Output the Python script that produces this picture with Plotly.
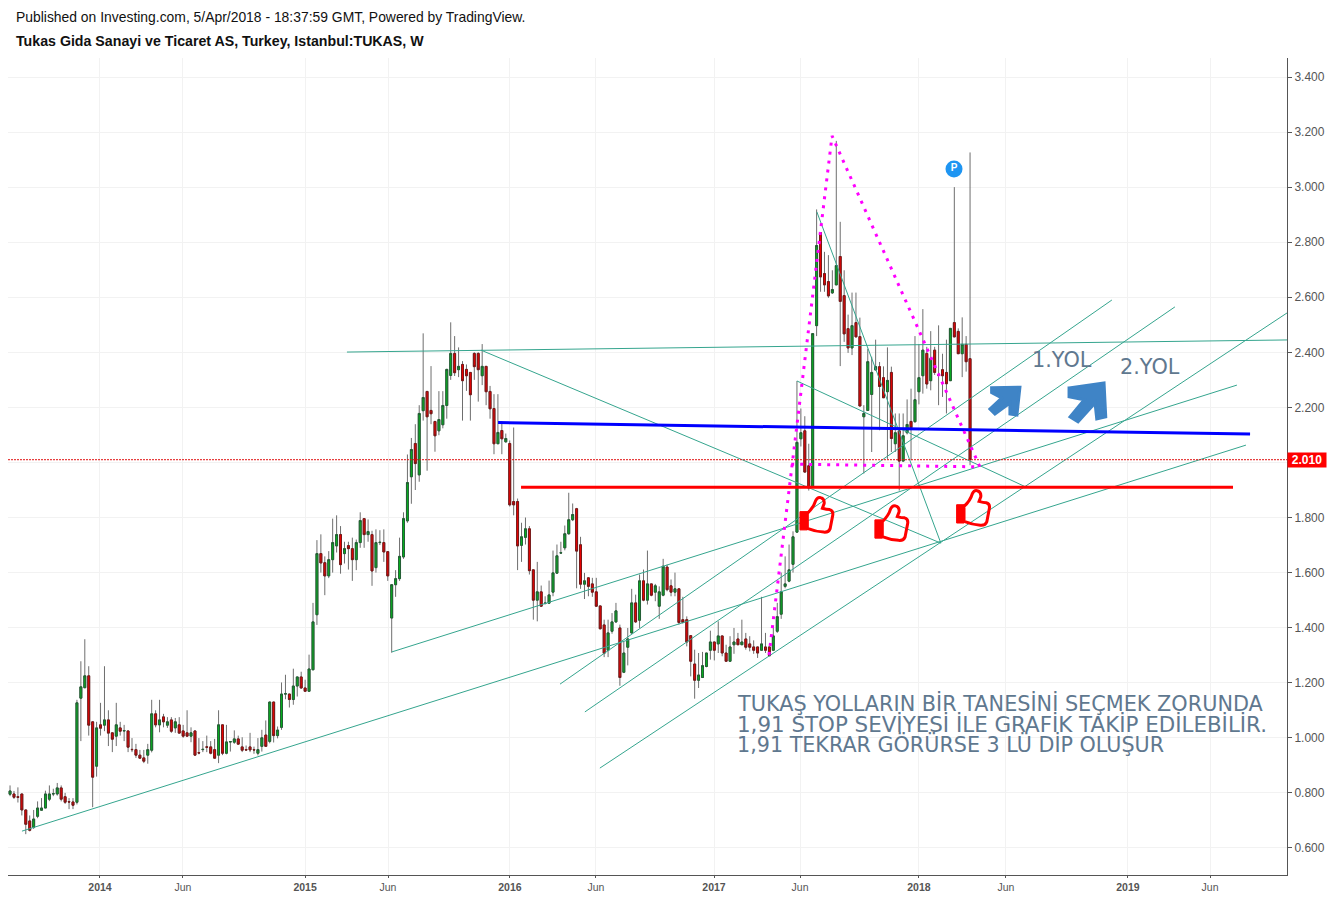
import pandas as pd
import plotly.graph_objects as go

# Weekly candles
opens = [
    .795,.796,.786,.796,.738,.698,.675,.715,.737,.745,.777,.796,.796,.818,.786,.768,.767,.766,1.144,1.182,
    1.225,1.058,.897,1.047,1.046,1.065,1.018,1.006,1.036,1.025,1.025,.958,.957,.937,.927,.937,.955,1.087,1.047,1.076,
    1.046,1.065,1.036,1.047,1.025,1.018,1.006,1.025,.946,.957,.967,.967,.957,.937,1.047,.944,.985,.984,.996,.967,
    .957,.967,.957,.944,
    .969,1.01,.987,1.13,1.008,1.038,1.159,1.159,1.139,1.188,1.221,1.181,1.169,1.247,1.447,
    1.669,1.636,1.588,1.647,1.697,1.738,1.669,1.698,1.687,1.647,1.709,1.796,1.738,1.738,1.618,1.709,1.709,1.676,1.435,1.556,
    1.578,1.657,1.788,1.948,2.069,1.955,2.188,2.258,2.189,2.149,2.115,2.137,2.207,2.316,2.396,2.337,2.356,2.338,2.327,2.396,
    2.396,2.315,2.349,2.258,2.196,2.068,2.116,2.075,2.069,1.858,1.858,
    1.699,1.728,1.759,1.61,1.5,1.53,1.488,1.489,1.529,1.598,1.671,1.69,1.741,1.792,1.832,1.701,1.558,1.581,1.559,1.53,
    1.479,1.41,1.318,1.387,1.421,1.399,1.238,1.329,1.381,1.49,1.427,1.57,1.5,1.559,1.529,1.478,1.518,1.62,1.552,1.529,
    1.541,1.429,1.429,1.371,1.268,1.209,1.219,1.259,1.318,1.348,1.341,1.37,1.308,1.278,1.338,1.359,1.338,1.359,1.341,1.33,
    1.33,1.318,1.33,1.33,1.318,1.387,1.449,1.55,1.569,
    1.63,1.747,2.086,2.115,1.988,1.913,2.497,2.835,2.686,2.657,2.616,2.645,2.748,2.606,2.486,2.416,2.508,2.457,2.166,2.189,
    2.247,2.336,2.348,2.308,2.257,2.327,2.068,2.115,2.005,2.108,2.149,2.148,2.257,2.315,2.396,2.297,2.408,2.318,2.337,2.327,
    2.297,2.508,2.476,2.395,2.429,2.377,
]
highs = [
    .827,.807,.82,.796,.738,.718,.738,.769,.781,.808,.827,.815,.836,.827,.80,.781,.781,1.138,1.278,1.358,
    1.26,1.058,1.058,1.127,1.26,1.10,1.018,1.127,1.058,1.047,1.025,.999,.978,.956,.956,.978,1.138,1.10,1.138,1.087,
    1.075,1.075,1.072,1.075,1.047,1.10,1.038,1.025,.999,.988,1.008,.988,.996,1.10,1.047,1.047,.986,1.027,1.008,1.002,
    .972,1.018,.968,.999,
    1.029,1.063,1.13,1.13,1.041,1.201,1.229,1.159,1.251,1.221,1.24,1.211,1.302,1.49,1.718,
    1.739,1.659,1.678,1.796,1.808,1.769,1.712,1.712,1.727,1.72,1.819,1.796,1.793,1.752,1.757,1.754,1.757,1.676,1.556,1.609,
    1.727,1.819,2.029,2.089,2.139,2.208,2.469,2.258,2.35,2.15,2.259,2.259,2.34,2.509,2.459,2.418,2.368,2.356,2.327,2.4,
    2.4,2.43,2.35,2.278,2.248,2.248,2.149,2.105,2.08,2.127,1.869,
    1.781,1.8,1.769,1.61,1.639,1.553,1.514,1.571,1.68,1.702,1.712,1.771,1.89,1.851,1.835,1.73,1.599,1.581,1.581,1.581,
    1.479,1.429,1.429,1.453,1.49,1.411,1.35,1.399,1.541,1.52,1.593,1.611,1.68,1.559,1.559,1.55,1.65,1.629,1.575,1.6,
    1.541,1.512,1.441,1.371,1.32,1.308,1.312,1.308,1.389,1.348,1.423,1.37,1.338,1.369,1.399,1.381,1.429,1.381,1.369,1.354,
    1.33,1.512,1.381,1.33,1.405,1.49,1.6,1.659,1.702,
    1.75,2.296,2.196,2.168,2.068,2.468,2.919,2.835,2.765,2.753,2.698,3.168,2.874,2.698,2.537,2.617,2.617,2.526,2.208,2.413,
    2.384,2.446,2.365,2.349,2.418,2.348,2.178,2.178,2.178,2.229,2.268,2.459,2.43,2.557,2.42,2.477,2.42,2.498,2.395,2.446,
    2.487,3.0,2.487,2.527,2.459,3.126,
]
lows = [
    .788,.778,.765,.718,.65,.66,.669,.708,.737,.745,.77,.788,.79,.769,.76,.741,.741,.758,.988,1.18,
    1.008,.748,.859,1.008,1.024,.97,.948,.97,1.008,.988,.948,.948,.927,.926,.908,.906,.947,1.038,1.02,1.038,
    1.036,1.018,1.018,1.015,1.0,1.006,.984,.937,.94,.948,.948,.94,.926,.908,.937,.94,.95,.978,.975,.948,
    .953,.948,.942,.936,
    .95,.969,.98,.983,.998,1.029,1.14,1.11,1.12,1.15,1.178,1.169,1.169,1.247,1.41,
    1.6,1.518,1.58,1.6,1.673,1.596,1.633,1.611,1.57,1.609,1.69,1.69,1.712,1.552,1.6,1.7,1.639,1.57,1.309,1.512,
    1.57,1.65,1.781,1.85,1.9,1.93,2.152,1.97,2.139,2.039,2.099,2.124,2.159,2.3,2.314,2.31,2.152,2.26,2.152,2.3,
    2.221,2.281,2.208,2.159,2.03,2.067,2.03,2.072,1.84,1.808,1.609,
    1.639,1.702,1.593,1.429,1.423,1.475,1.484,1.487,1.514,1.596,1.668,1.681,1.738,1.787,1.543,1.541,1.504,1.514,1.512,1.475,
    1.394,1.293,1.293,1.378,1.417,1.189,1.235,1.263,1.378,1.417,1.399,1.496,1.484,1.514,1.496,1.432,1.514,1.532,1.514,1.514,
    1.411,1.415,1.332,1.223,1.142,1.181,1.217,1.256,1.284,1.281,1.308,1.296,1.278,1.278,1.305,1.338,1.338,1.32,1.314,1.305,
    1.29,1.318,1.308,1.298,1.315,1.381,1.432,1.543,1.565,
    1.60,1.745,2.058,1.965,1.898,1.913,2.459,2.62,2.62,2.598,2.612,2.645,2.35,2.438,2.398,2.39,2.456,2.205,1.96,2.189,
    2.038,2.335,2.117,2.235,2.013,2.038,2.038,1.898,2.005,2.102,2.008,2.145,2.211,2.25,2.268,2.262,2.318,2.208,2.238,2.178,
    2.297,2.456,2.395,2.31,2.33,1.99,
]
closes = [
    .807,.784,.784,.738,.686,.664,.705,.745,.745,.796,.796,.797,.818,.777,.766,.767,.755,1.127,1.185,1.225,
    1.046,.857,1.036,1.035,1.065,1.017,.995,1.047,1.024,1.026,.966,.957,.937,.926,.915,.957,1.087,1.047,1.065,1.058,
    1.058,1.024,1.058,1.017,1.006,1.006,1.018,.937,.945,.958,.966,.944,.926,1.047,.944,.985,.986,.996,.977,.955,
    .956,.956,.956,.957,
    1.0,.969,1.13,1.008,1.028,1.159,1.16,1.139,1.188,1.221,1.181,1.169,1.25,1.421,1.669,
    1.635,1.588,1.647,1.709,1.738,1.629,1.687,1.687,1.647,1.709,1.789,1.738,1.749,1.606,1.709,1.71,1.675,1.588,1.556,1.578,
    1.659,1.796,1.927,2.047,1.996,2.178,2.236,2.166,2.177,2.097,2.156,2.207,2.338,2.396,2.326,2.349,2.297,2.315,2.246,2.348,
    2.337,2.349,2.257,2.195,2.068,2.109,2.086,2.087,1.846,1.846,1.697,
    1.73,1.759,1.607,1.5,1.53,1.478,1.489,1.519,1.599,1.661,1.672,1.741,1.792,1.811,1.678,1.558,1.57,1.55,1.529,1.478,
    1.396,1.307,1.381,1.421,1.461,1.219,1.308,1.359,1.49,1.421,1.57,1.5,1.559,1.518,1.552,1.53,1.623,1.538,1.529,1.541,
    1.419,1.419,1.348,1.278,1.209,1.228,1.262,1.308,1.348,1.318,1.37,1.308,1.278,1.33,1.348,1.338,1.348,1.329,1.329,1.318,
    1.308,1.341,1.318,1.298,1.37,1.44,1.53,1.559,1.61,
    1.73,2.073,2.108,1.965,1.907,2.468,2.788,2.674,2.645,2.605,2.628,2.715,2.585,2.467,2.416,2.497,2.456,2.205,2.178,2.366,
    2.327,2.348,2.276,2.235,2.298,2.087,2.108,2.005,2.097,2.138,2.126,2.228,2.308,2.408,2.285,2.378,2.327,2.317,2.315,2.286,
    2.487,2.456,2.395,2.429,2.366,2.01,
]
dates = pd.date_range(end='2018-03-29', periods=len(closes), freq='7D')

# Drawings on the chart: (year, price) at both ends
trend_lines = [
    (2013.620, 0.661, 2019.582, 2.063),
    (2015.422, 1.312, 2019.538, 2.281),
    (2015.203, 2.401, 2019.782, 2.445),
    (2015.856, 2.408, 2018.096, 1.707),
    (2017.492, 2.910, 2018.096, 1.707),
    (2017.395, 2.296, 2018.510, 1.911),
    (2016.435, 0.890, 2019.782, 2.543),
    (2016.362, 1.094, 2019.236, 2.565),
    (2016.241, 1.195, 2018.929, 2.590),
]
blue_line = (2015.939, 2.145, 2019.602, 2.103)
red_line = (2016.051, 1.91, 2019.519, 1.91)
dotted_years = [2017.259, 2017.566, 2018.286, 2017.361]
dotted_prices = [1.301, 3.186, 1.984, 1.994]
last_price = 2.01
axis_range = [2013.552, 2019.782]

price_ticks = [0.6, 0.8, 1.0, 1.2, 1.4, 1.6, 1.8, 2.0, 2.2, 2.4, 2.6, 2.8, 3.0, 3.2, 3.4]
# the 2.000 label sits under the last price label in the original
price_labels = ['0.600', '0.800', '1.000', '1.200', '1.400', '1.600', '1.800', '', '2.200', '2.400', '2.600', '2.800', '3.000', '3.200', '3.400']
time_ticks = [2014.0, 2014.404, 2014.999, 2015.403, 2015.997, 2016.416, 2016.991, 2017.41, 2017.989, 2018.413, 2019.007, 2019.407]
time_labels = ['<b>2014</b>', 'Jun', '<b>2015</b>', 'Jun', '<b>2016</b>', 'Jun', '<b>2017</b>', 'Jun', '<b>2018</b>', 'Jun', '<b>2019</b>', 'Jun']

note_lines = [
    'TUKAŞ YOLLARIN BİR TANESİNİ SEÇMEK ZORUNDA',
    '1,91 STOP SEVİYESİ İLE GRAFİK TAKİP EDİLEBİLİR.',
    '1,91 TEKRAR GÖRÜRSE 3 LÜ DİP OLUŞUR',
]
note_prices = [1.123, 1.050, 0.977]
note_sizes = [20.8, 21.4, 20.7]

TEAL = '#35a58e'
NOTE = '#5f788f'
ARROW = '#3f84c6'
SANS = 'Liberation Sans, Arial, sans-serif'


def to_date(year):
    return pd.Timestamp('2014-01-01') + pd.Timedelta(days=(year - 2014) * 365.25)


def poly(points):
    return 'M' + ' L'.join(f'{x},{y}' for x, y in points) + ' Z'


fig = go.Figure()

# Grey wicks first, then the bodies on top so that they keep their own outline
fig.add_trace(go.Candlestick(
    x=dates, open=opens, high=highs, low=lows, close=closes,
    increasing=dict(fillcolor='#6e6e6e', line=dict(color='#6e6e6e', width=1)),
    decreasing=dict(fillcolor='#6e6e6e', line=dict(color='#6e6e6e', width=1)),
    whiskerwidth=0,
    hoverinfo='skip',
))
body_tops = [max(o, c) for o, c in zip(opens, closes)]
body_bottoms = [min(o, c) for o, c in zip(opens, closes)]
fig.add_trace(go.Candlestick(
    x=dates, open=opens, high=body_tops, low=body_bottoms, close=closes,
    increasing=dict(fillcolor='#06b41e', line=dict(color='#235f35', width=1)),
    decreasing=dict(fillcolor='#f00000', line=dict(color='#761818', width=1)),
    whiskerwidth=0,
    hoverinfo='skip',
))

# Teal trend lines
for x0, y0, x1, y1 in trend_lines:
    fig.add_trace(go.Scatter(x=[to_date(x0), to_date(x1)], y=[y0, y1], mode='lines',
                             line=dict(color=TEAL, width=1), hoverinfo='skip'))

# Support and resistance
for (x0, y0, x1, y1), col in [(blue_line, '#0000ff'), (red_line, '#ff0000')]:
    fig.add_trace(go.Scatter(x=[to_date(x0), to_date(x1)], y=[y0, y1], mode='lines',
                             line=dict(color=col, width=3), hoverinfo='skip'))

fig.add_trace(go.Scatter(x=[to_date(v) for v in dotted_years], y=dotted_prices, mode='lines',
                         line=dict(color='#ff00ff', width=3, dash='3px,6px'), hoverinfo='skip'))

fig.add_trace(go.Scatter(x=[to_date(v) for v in axis_range], y=[last_price, last_price], mode='lines',
                         line=dict(color='#e01010', width=1, dash='2px,1px'), hoverinfo='skip'))

# "P" marker of the publisher
fig.add_trace(go.Scatter(x=[to_date(2018.160)], y=[3.066], mode='markers+text', text=['<b>P</b>'],
                         textposition='middle center',
                         textfont=dict(color='white', size=10, family=SANS),
                         marker=dict(color='#1e95f2', size=17), hoverinfo='skip'))

# Blue arrows and red thumbs are fixed size, anchored to a date and price
arrow_small = [(-13.3, 12.3), (15, 12.7), (12, -15), (5, -14), (5, -3), (-10, -14), (-15, -9), (-3.3, 2), (-13.3, 7.3)]
arrow_big = [(-18, 14), (17, 19), (18.7, -15), (9.7, -17), (8, -1), (-9, -20), (-17, -15), (-3, 2), (-18, 5)]
for year, price, pts in [(2018.408, 2.227, arrow_small), (2018.808, 2.220, arrow_big)]:
    fig.add_shape(type='path', xsizemode='pixel', ysizemode='pixel',
                  xanchor=to_date(year), yanchor=price, path=poly(pts),
                  fillcolor=ARROW, line=dict(color=ARROW, width=3), layer='above')

thumb = ('M-9.3,2.3 Q-3,8 -1,15 Q1,19 4,18 Q8,17 7.5,12 L5.7,7.3 Q10,6 13,6 Q17,5 16,0 L13.5,-13 '
         'Q12,-17 7,-16.5 Q-1,-16 -9.3,-12.7 Z')
cuff = poly([(-16.7, 4), (-9.3, 4), (-9.3, -14.3), (-16.7, -14.3)])
dot = 'M-15,-11 A1.7,1.7 0 1 1 -11.6,-11 A1.7,1.7 0 1 1 -15,-11 Z'
for year, price in [(2017.491, 1.807), (2017.856, 1.777), (2018.254, 1.832)]:
    anchor = dict(type='path', xsizemode='pixel', ysizemode='pixel',
                  xanchor=to_date(year), yanchor=price, layer='above')
    fig.add_shape(path=thumb, fillcolor='rgba(0,0,0,0)', line=dict(color='#ff0000', width=3), **anchor)
    fig.add_shape(path=cuff, fillcolor='#ff0000', line=dict(color='#ff0000', width=1), **anchor)
    fig.add_shape(path=dot, fillcolor='white', line=dict(color='white', width=0), **anchor)

# Notes on the chart
for text, price, size in zip(note_lines, note_prices, note_sizes):
    fig.add_annotation(x=to_date(2017.094), y=price, text=text, showarrow=False, xanchor='left', yanchor='middle',
                       font=dict(family='DejaVu Sans', size=size, color=NOTE))
for text, year, price in [('1.YOL', 2018.686, 2.372), ('2.YOL', 2019.114, 2.347)]:
    fig.add_annotation(x=to_date(year), y=price, text=text, showarrow=False,
                       font=dict(family='DejaVu Sans', size=20.8, color=NOTE))

# Header lines and the last price label
fig.add_annotation(xref='paper', yref='paper', x=0.0047, y=1.0, yshift=41, xanchor='left', yanchor='middle',
                   text='Published on Investing.com, 5/Apr/2018 - 18:37:59 GMT, Powered by TradingView.',
                   showarrow=False, font=dict(family=SANS, size=13.9, color='#111111'))
fig.add_annotation(xref='paper', yref='paper', x=0.0047, y=1.0, yshift=17, xanchor='left', yanchor='middle',
                   text='<b>Tukas Gida Sanayi ve Ticaret AS, Turkey, Istanbul:TUKAS, W</b>',
                   showarrow=False, font=dict(family=SANS, size=14.2, color='#111111'))
fig.add_annotation(xref='paper', yref='y', x=1.0, y=last_price, xanchor='left', yanchor='middle',
                   text='<b>2.010</b>', showarrow=False, bgcolor='#ff0000', width=38, height=14, borderpad=0,
                   font=dict(family=SANS, size=12, color='white'))

fig.update_layout(
    width=1333,
    height=899,
    margin=dict(l=8, r=46, t=58, b=24, autoexpand=False),
    paper_bgcolor='white',
    plot_bgcolor='white',
    showlegend=False,
    xaxis=dict(
        type='date',
        automargin=False,
        range=[to_date(v) for v in axis_range],
        rangeslider=dict(visible=False),
        tickmode='array',
        tickvals=[to_date(v) for v in time_ticks],
        ticktext=time_labels,
        tickangle=0,
        tickfont=dict(family=SANS, size=10.5, color='#555555'),
        ticks='outside', ticklen=2, tickcolor='#555555',
        showline=True, linecolor='#555555', linewidth=1,
        showgrid=True, gridcolor='#f2f2f2', gridwidth=1,
        zeroline=False,
    ),
    yaxis=dict(
        side='right',
        automargin=False,
        range=[0.5017, 3.469],
        tickmode='array',
        tickvals=price_ticks,
        ticktext=price_labels,
        tickfont=dict(family=SANS, size=12, color='#555555'),
        ticks='outside', ticklen=4, tickcolor='#555555',
        showline=True, linecolor='#555555', linewidth=1,
        showgrid=True, gridcolor='#f2f2f2', gridwidth=1,
        zeroline=False,
    ),
)

fig.write_html("out.html", config=dict(displayModeBar=False), post_script="document.body.style.margin='0';")
